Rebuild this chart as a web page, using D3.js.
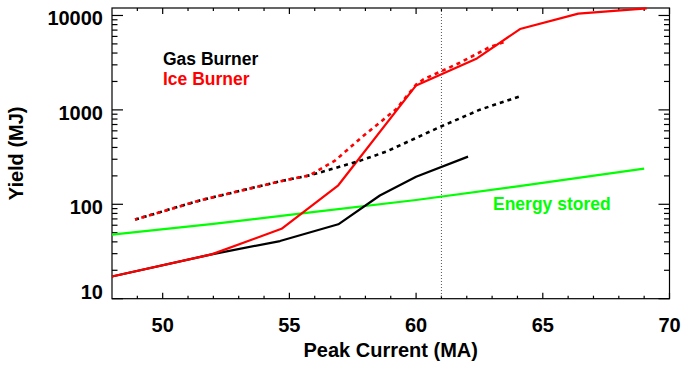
<!DOCTYPE html>
<html><head><meta charset="utf-8">
<script src="https://cdn.jsdelivr.net/npm/d3@7"></script>
<style>body{margin:0;background:#fff}svg{display:block}text{font-family:"Liberation Sans",Arial,sans-serif;font-weight:bold}</style>
</head><body>
<svg id="c" width="682" height="365"></svg>
<script>
const xTicks = [50, 55, 60, 65, 70];
const yTicks = [10, 100, 1000, 10000];
const yTickLabels = ["10", "100", "1000", "10000"];

const gasSolidX = [48, 51.93, 54.63, 56.93, 58.57, 60, 62.05];
const gasSolidY = [17.2, 29.5, 40.8, 61.4, 124, 196, 320];

const iceSolidX = [48, 51.93, 54.69, 56.93, 60, 62.4, 64.1, 66.4, 69.1];
const iceSolidY = [17.2, 29.5, 55, 159, 1816, 3510, 7180, 10450, 11890];

const gasDotX = [48.91, 51.47, 54.63, 55.81, 56.6, 57.8, 58.84, 60.94, 62.52, 64.1];
const gasDotY = [68.9, 110, 175, 203, 233, 290, 363, 659, 1005, 1390];

const iceDotX = [48.91, 51.47, 54.63, 55.81, 56.8, 57.9, 59.2, 60, 60.28, 61.73, 62.85, 63.5];
const iceDotY = [68.9, 110, 175, 203, 290, 525, 1010, 1850, 2100, 3160, 4550, 5270];

const storedX = [48, 52, 56, 60, 64, 69];
const storedY = [47.8, 62, 83, 111, 155, 239];

const markerX = 61;

const svg = d3.select("#c");
const L = 112, R = 669.5, T = 8, B = 298.7;
const x = d3.scaleLinear().domain([48, 70]).range([L, R]);
const y = d3.scaleLog().domain([10, 12000]).range([B, T]);

svg.append("rect").attr("x", L).attr("y", T).attr("width", R - L).attr("height", B - T)
  .attr("fill", "none").attr("stroke", "#000").attr("stroke-width", 1.2);

const xMinor = d3.range(49, 70, 1).filter(v => !xTicks.includes(v));
const tg = svg.append("g").attr("stroke", "#000").attr("stroke-width", 1.2);
xTicks.forEach(v => {
  tg.append("line").attr("x1", x(v)).attr("x2", x(v)).attr("y1", B).attr("y2", B - 6);
  tg.append("line").attr("x1", x(v)).attr("x2", x(v)).attr("y1", T).attr("y2", T + 6);
});
xMinor.forEach(v => {
  tg.append("line").attr("x1", x(v)).attr("x2", x(v)).attr("y1", B).attr("y2", B - 3);
  tg.append("line").attr("x1", x(v)).attr("x2", x(v)).attr("y1", T).attr("y2", T + 3);
});
const yMinor = [];
[10, 100, 1000, 10000].forEach(d => { for (let k = 2; k <= 9; k++) if (d * k <= 12000) yMinor.push(d * k); });
yTicks.forEach(v => {
  tg.append("line").attr("x1", L).attr("x2", L + 11).attr("y1", y(v)).attr("y2", y(v));
  tg.append("line").attr("x1", R).attr("x2", R - 11).attr("y1", y(v)).attr("y2", y(v));
});
yMinor.forEach(v => {
  tg.append("line").attr("x1", L).attr("x2", L + 5.5).attr("y1", y(v)).attr("y2", y(v));
  tg.append("line").attr("x1", R).attr("x2", R - 5.5).attr("y1", y(v)).attr("y2", y(v));
});

xTicks.forEach(v => {
  svg.append("text").attr("x", x(v)).attr("y", 332).attr("text-anchor", "middle")
    .attr("font-size", 20).text(v);
});
yTicks.forEach((v, i) => {
  const by = v === 10 ? y(v) + 0.5 : y(v) + 10;
  svg.append("text").attr("x", 103).attr("y", by).attr("text-anchor", "end")
    .attr("font-size", 20).text(yTickLabels[i]);
});

svg.append("text").attr("x", (L + R) / 2).attr("y", 357).attr("text-anchor", "middle")
  .attr("font-size", 20).text("Peak Current (MA)");
svg.append("text").attr("transform", `translate(23,${(T + B) / 2}) rotate(-90)`)
  .attr("text-anchor", "middle").attr("font-size", 20).text("Yield (MJ)");

svg.append("line").attr("x1", x(markerX)).attr("x2", x(markerX)).attr("y1", T).attr("y2", B)
  .attr("stroke", "#555").attr("stroke-width", 1).attr("stroke-dasharray", "1,2");

const line = d3.line().x(d => x(d[0])).y(d => y(d[1]));
function draw(xs, ys, color, dash, off) {
  const p = svg.append("path").datum(xs.map((v, i) => [v, ys[i]])).attr("d", line)
    .attr("fill", "none").attr("stroke", color).attr("stroke-width", 2.2)
    .attr("stroke-linejoin", "round");
  if (dash) p.attr("stroke-dasharray", dash).attr("stroke-dashoffset", off || 0).attr("stroke-width", 2.6);
}
draw(storedX, storedY, "#00ff00");
draw(gasSolidX, gasSolidY, "#000");
draw(iceSolidX, iceSolidY, "#ff0000");
draw(gasDotX, gasDotY, "#000", "4,4", 0);
draw(iceDotX, iceDotY, "#ff0000", "4,4", 1.5);

svg.append("text").attr("x", 163).attr("y", 65).attr("font-size", 17.5).attr("fill", "#000").text("Gas Burner");
svg.append("text").attr("x", 163).attr("y", 85).attr("font-size", 17.5).attr("fill", "#ff0000").text("Ice Burner");
svg.append("text").attr("x", 493).attr("y", 210).attr("font-size", 17.5).attr("fill", "#00ff00").text("Energy stored");
</script>
</body></html>
